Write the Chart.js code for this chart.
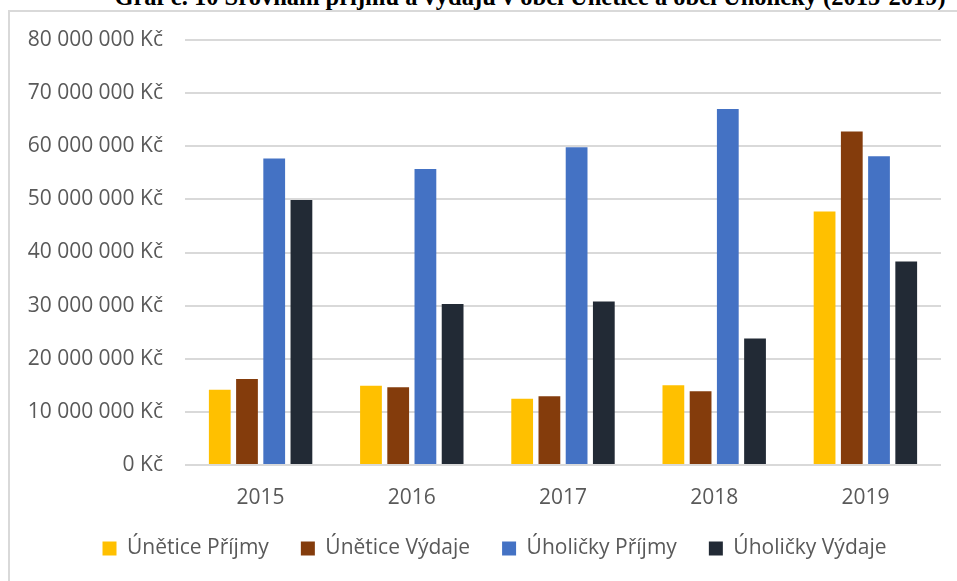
<!DOCTYPE html>
<html>
<head>
<meta charset="utf-8">
<script src="https://cdn.jsdelivr.net/npm/chart.js@4/dist/chart.umd.min.js"></script>
<style>
  html, body { margin: 0; padding: 0; background: #fff; width: 957px; height: 581px; overflow: hidden; }
  #title { position: absolute; left: 0; width: 1060px; top: -17px; text-align: center; font: bold 24.5px "Liberation Serif", "Times New Roman", serif; color: #000; white-space: nowrap; }
  #frame { position: absolute; left: 8px; top: 10px; width: 1000px; height: 600px; border-left: 2px solid #d9d9d9; border-top: 2px solid #d9d9d9; }
  #wrap { position: absolute; left: 0; top: 0; width: 957px; height: 581px; }
</style>
</head>
<body>
<div id="title">Graf č. 10 Srovnání příjmů a výdajů v obci Únětice a obci Úholičky (2015-2019)</div>
<div id="frame"></div>
<div id="wrap"><canvas id="c" width="957" height="581"></canvas></div>
<script>
const categories = ["2015", "2016", "2017", "2018", "2019"];
const unetice_prijmy = [14150000, 14900000, 12450000, 15000000, 47700000];
const unetice_vydaje = [16200000, 14650000, 12950000, 13900000, 62800000];
const uholicky_prijmy = [57700000, 55700000, 59800000, 67000000, 58100000];
const uholicky_vydaje = [49900000, 30300000, 30800000, 23800000, 38300000];
const seriesNames = ["Únětice Příjmy", "Únětice Výdaje", "Úholičky Příjmy", "Úholičky Výdaje"];
const seriesColors = ["#FFC000", "#843C0C", "#4472C4", "#222A35"];
const yMax = 80000000;
const yStep = 10000000;

const fmt = v => {
  if (v === 0) return "0 Kč";
  return String(v).replace(/\B(?=(\d{3})+(?!\d))/g, " ") + " Kč";
};

const values = [unetice_prijmy, unetice_vydaje, uholicky_prijmy, uholicky_vydaje];
const datasets = values.map((d, i) => ({
  label: seriesNames[i],
  data: d,
  backgroundColor: seriesColors[i],
  borderWidth: 0,
  categoryPercentage: 0.72,
  barPercentage: 0.8
}));

const font = { family: "'Open Sans', 'Noto Sans', sans-serif", size: 21 };

const legendShift = {
  id: "legendShift",
  afterLayout(chart) {
    if (chart.legend) { chart.legend.left += 24; chart.legend.right += 24; }
  }
};

new Chart(document.getElementById("c"), {
  type: "bar",
  data: { labels: categories, datasets },
  plugins: [legendShift],
  options: {
    responsive: false,
    animation: false,
    devicePixelRatio: 1,
    layout: { padding: { left: 0, right: 16, top: 40, bottom: 12 } },
    plugins: {
      title: { display: false },
      tooltip: { enabled: false },
      legend: {
        position: "bottom",
        labels: {
          boxWidth: 14, boxHeight: 14, padding: 32,
          color: "#595959", font: font
        }
      }
    },
    scales: {
      x: {
        grid: { display: false, drawTicks: false },
        border: { display: false },
        ticks: { color: "#595959", font: font, padding: 20 },
        afterFit: s => { s.height = 41; }
      },
      y: {
        min: 0, max: yMax,
        grid: { color: "#d9d9d9", lineWidth: 2, drawTicks: false },
        border: { display: false },
        ticks: { stepSize: yStep, color: "#595959", font: font, padding: 22, callback: v => fmt(v) },
        afterFit: s => { s.width = 185; }
      }
    }
  }
});
</script>
</body>
</html>
